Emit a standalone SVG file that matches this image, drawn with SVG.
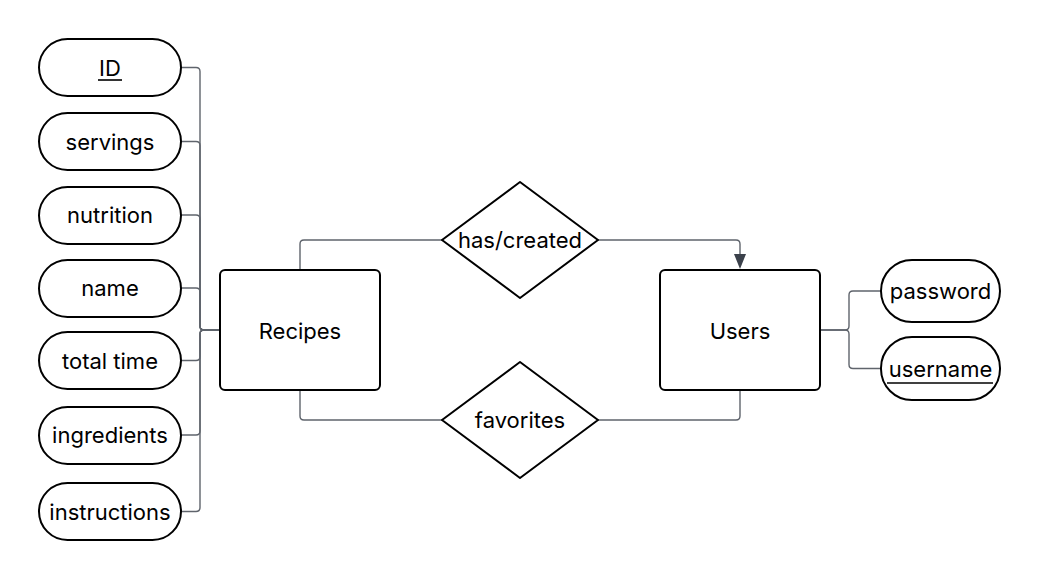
<svg xmlns="http://www.w3.org/2000/svg" width="1040" height="580" viewBox="0 0 1040 580">
<style>
.shape{fill:#fff;stroke:#000;stroke-width:2}
.lbl{font-family:Inter,"Noto Sans","Liberation Sans",sans-serif;font-size:22px;fill:#000;text-anchor:middle;dominant-baseline:central}
.conn{fill:none;stroke:#5f646c;stroke-width:1.4}
.ul{stroke:#000;stroke-width:1.6}
</style>
<rect width="1040" height="580" fill="#fff"/>
<g id="connectors">
<path class="conn" d="M181,67.5 H196 Q200,67.5 200,71.5 V326 Q200,330 204,330 H220"/>
<path class="conn" d="M181,141.5 H196 Q200,141.5 200,145.5 V326 Q200,330 204,330 H220"/>
<path class="conn" d="M181,215 H196 Q200,215 200,219 V326 Q200,330 204,330 H220"/>
<path class="conn" d="M181,288 H196 Q200,288 200,292 V326 Q200,330 204,330 H220"/>
<path class="conn" d="M181,360.5 H196 Q200,360.5 200,356.5 V334 Q200,330 204,330 H220"/>
<path class="conn" d="M181,435 H196 Q200,435 200,431 V334 Q200,330 204,330 H220"/>
<path class="conn" d="M181,511.5 H196 Q200,511.5 200,507.5 V334 Q200,330 204,330 H220"/>
<path class="conn" d="M300,270 V244 Q300,240 304,240 H442"/>
<path class="conn" d="M598,240 H736 Q740,240 740,244 V256"/>
<path d="M734,254 L746,254 L740,269 Z" fill="#3b414b"/>
<path class="conn" d="M300,390 V416 Q300,420 304,420 H442"/>
<path class="conn" d="M598,420 H736 Q740,420 740,416 V390"/>
<path class="conn" d="M820,330 H845 Q849,330 849,326 V295 Q849,291 853,291 H881"/>
<path class="conn" d="M820,330 H845 Q849,330 849,334 V364.5 Q849,368.5 853,368.5 H881"/>
</g>
<g id="attr-id"><rect class="shape" x="39" y="39" width="142" height="57" rx="28.5"/><text class="lbl" x="110" y="67.5">ID</text><line class="ul" x1="98" y1="80" x2="122" y2="80"/></g>
<g id="attr-servings"><rect class="shape" x="39" y="113" width="142" height="57" rx="28.5"/><text class="lbl" x="110" y="141.5">servings</text></g>
<g id="attr-nutrition"><rect class="shape" x="39" y="187" width="142" height="57" rx="28.5"/><text class="lbl" x="110" y="215">nutrition</text></g>
<g id="attr-name"><rect class="shape" x="39" y="260" width="142" height="57" rx="28.5"/><text class="lbl" x="110" y="288">name</text></g>
<g id="attr-totaltime"><rect class="shape" x="39" y="332" width="142" height="57" rx="28.5"/><text class="lbl" x="110" y="360.5">total time</text></g>
<g id="attr-ingredients"><rect class="shape" x="39" y="407" width="142" height="57" rx="28.5"/><text class="lbl" x="110" y="435">ingredients</text></g>
<g id="attr-instructions"><rect class="shape" x="39" y="483" width="142" height="57" rx="28.5"/><text class="lbl" x="110" y="511.5">instructions</text></g>
<g id="recipes"><rect class="shape" x="220" y="270" width="160" height="120" rx="5"/><text class="lbl" x="300" y="331">Recipes</text></g>
<g id="users"><rect class="shape" x="660" y="270" width="160" height="120" rx="5"/><text class="lbl" x="740" y="331">Users</text></g>
<g id="has-created"><path class="shape" stroke-linejoin="round" d="M520,182 L598,240 L520,298 L442,240 Z"/><text class="lbl" x="520" y="240">has/created</text></g>
<g id="favorites"><path class="shape" stroke-linejoin="round" d="M520,362 L598,420 L520,478 L442,420 Z"/><text class="lbl" x="520" y="420">favorites</text></g>
<g id="attr-password"><rect class="shape" x="881" y="260" width="119" height="62" rx="31"/><text class="lbl" x="940.5" y="291">password</text></g>
<g id="attr-username"><rect class="shape" x="881" y="337" width="119" height="63" rx="31"/><text class="lbl" x="940.5" y="369">username</text><line class="ul" x1="887" y1="383" x2="993" y2="383"/></g>
</svg>
